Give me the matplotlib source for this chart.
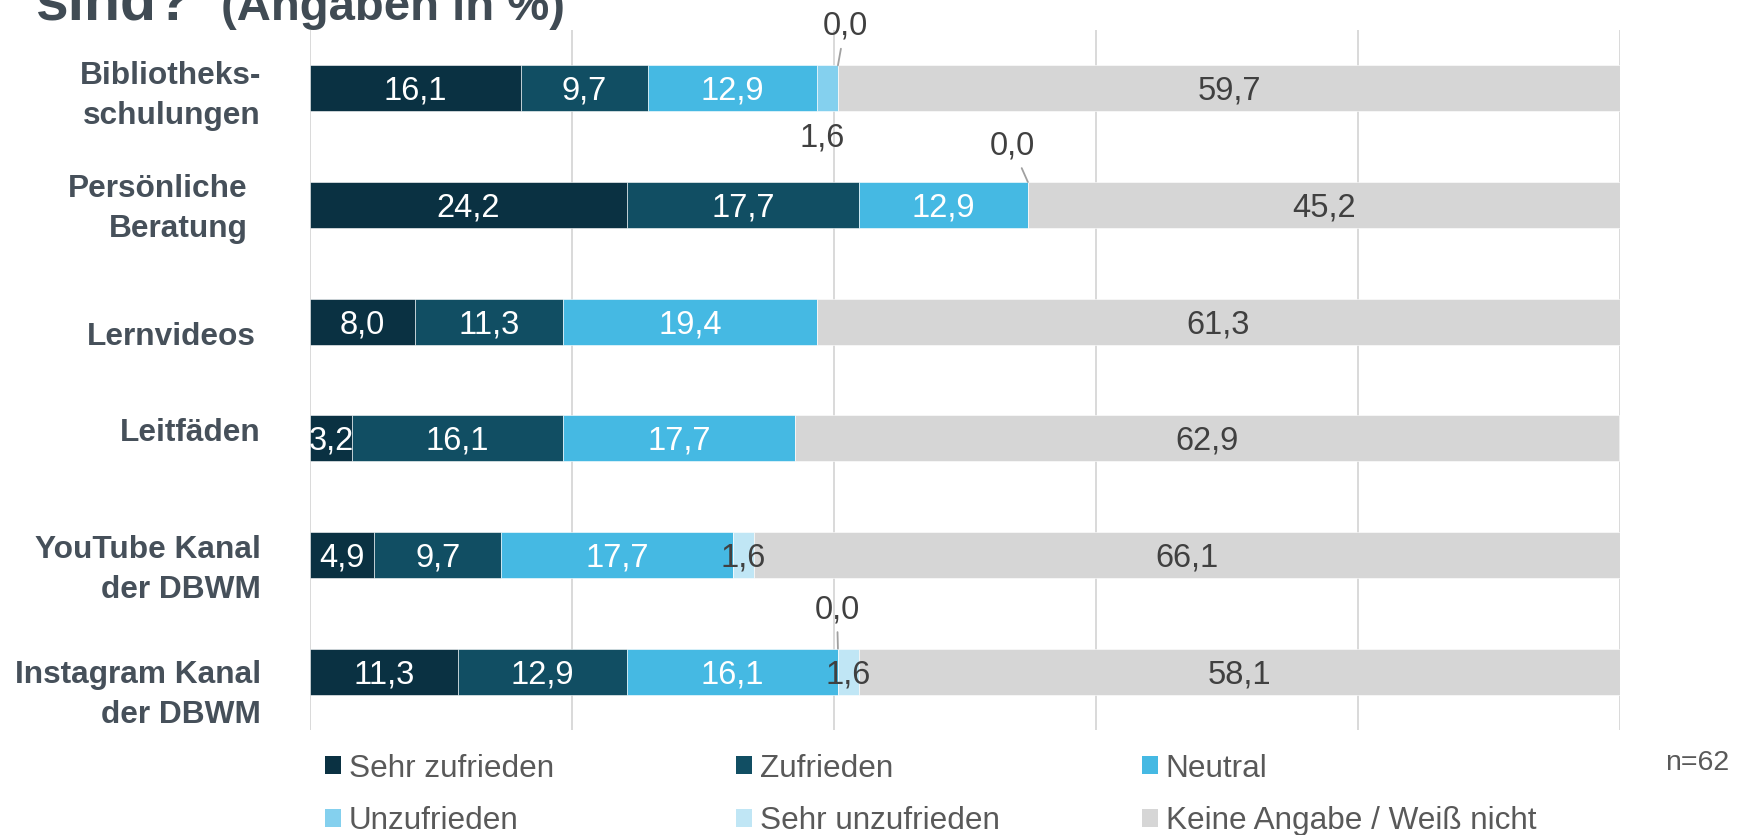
import matplotlib
matplotlib.use("Agg")
import matplotlib.pyplot as plt
from matplotlib.patches import Patch
from matplotlib.transforms import offset_copy, blended_transform_factory

# ---------------- data ----------------
categories = ["Bibliotheks-\nschulungen", "Persönliche\nBeratung", "Lernvideos",
              "Leitfäden", "YouTube Kanal\nder DBWM", "Instagram Kanal\nder DBWM"]
series_names = ["Sehr zufrieden", "Zufrieden", "Neutral", "Unzufrieden",
                "Sehr unzufrieden", "Keine Angabe / Weiß nicht"]
sehr_zufrieden = [16.1, 24.2, 8.0, 3.2, 4.9, 11.3]
zufrieden = [9.7, 17.7, 11.3, 16.1, 9.7, 12.9]
neutral = [12.9, 12.9, 19.4, 17.7, 17.7, 16.1]
unzufrieden = [1.6, 0.0, 0.0, 0.0, 0.0, 0.0]
sehr_unzufrieden = [0.0, 0.0, 0.0, 0.0, 1.6, 1.6]
keine_angabe = [59.7, 45.2, 61.3, 62.9, 66.1, 58.1]
series = [sehr_zufrieden, zufrieden, neutral, unzufrieden, sehr_unzufrieden, keine_angabe]
n_text = "n=62"

# ---------------- style ----------------
colors = ["#0A3142", "#114E63", "#45B9E3", "#84D0EE", "#C0E6F5", "#D6D6D6"]
label_colors = ["white", "white", "white", "#404040", "#404040", "#404040"]
# special labels: (row, series, dx px, dy px (up), leader line)
special = [(0, 3, -5, -27, False), (0, 4, 7, 39, True),
           (1, 4, -16, 36, True), (5, 3, -1, 39, True)]
# category label block offsets (px, right/down) relative to bar centre
cat_dx = [0, -13, -5, 0, 0, 0]
cat_dy = [4, 1, 12, -9, 11.5, 20.5]

W, H = 1741, 835
plt.rcParams["font.family"] = ["Liberation Sans", "DejaVu Sans"]
fig = plt.figure(figsize=(W / 100, H / 100), dpi=100)
ax = fig.add_axes([310 / W, 1 - 730 / H, 1310 / W, 700 / H])

bar_h = 0.394
rows = list(range(len(categories)))
lefts = [0.0] * len(categories)
starts = []
for i, vals in enumerate(series):
    ax.barh(rows, vals, left=lefts, height=bar_h, color=colors[i],
            edgecolor="white", linewidth=0.4, label=series_names[i], zorder=2)
    starts.append(list(lefts))
    lefts = [l + v for l, v in zip(lefts, vals)]

ax.set_xlim(0, 100)
ax.set_ylim(5.5, -0.5)
ax.set_xticks(range(0, 101, 20))
ax.set_yticks([])
ax.tick_params(axis="x", length=0, labelbottom=False)
ax.grid(axis="x", color="#D9D9D9", linewidth=1.4, zorder=0)
ax.set_axisbelow(True)
for s in ax.spines.values():
    s.set_visible(False)

fs_val = 23.5
cap_half = 11.5
special_keys = {(r, s): (dx, dy, ld) for r, s, dx, dy, ld in special}
for i, vals in enumerate(series):
    for j, v in enumerate(vals):
        txt = f"{v:.1f}".replace(".", ",")
        xc = starts[i][j] + v / 2
        if (j, i) in special_keys:
            dx, dy, ld = special_keys[(j, i)]
            edge = j - bar_h / 2 if dy > 0 else j + bar_h / 2
            if ld:
                ax.annotate(txt, xy=(xc, edge), xytext=(dx, dy), textcoords="offset pixels",
                            ha="center", va="center", fontsize=fs_val, color="#404040",
                            arrowprops=dict(arrowstyle="-", color="#A0A0A0", lw=1.3,
                                            shrinkA=3, shrinkB=0), zorder=5)
            else:
                ax.annotate(txt, xy=(xc, edge), xytext=(dx, dy), textcoords="offset pixels",
                            ha="center", va="center", fontsize=fs_val, color="#404040", zorder=5)
        elif v > 0:
            ax.annotate(txt, xy=(xc, j), xytext=(0, -cap_half), textcoords="offset pixels",
                        ha="center", va="baseline", fontsize=fs_val, color=label_colors[i],
                        zorder=5)

# category labels
base_tr = blended_transform_factory(ax.transAxes, ax.transData)
fs_cat = 22.8
for j, cat in enumerate(categories):
    lines = cat.split("\n")
    n = len(lines)
    for k, line in enumerate(lines):
        off = cat_dy[j] + (k - (n - 1) / 2) * 40 + 11.3
        tr = offset_copy(base_tr, fig=fig, x=cat_dx[j], y=-off, units="dots")
        ax.text((261 - 310) / 1310, j, line, transform=tr, ha="right", va="baseline",
                fontsize=fs_cat, fontweight="bold", color="#46505A", clip_on=False)

# title (cut at the top, as in the source)
fig.text(36 / W, 1 - 20 / H, "sind?", fontsize=42.5, fontweight="bold",
         color="#404B54", ha="left", va="baseline")
fig.text(221 / W, 1 - 20 / H, "(Angaben in %)", fontsize=34, fontweight="bold",
         color="#404B54", ha="left", va="baseline")

# legend: three columns, row-wise order
handles = [Patch(facecolor=c, edgecolor="none") for c in colors]
col_x = [325, 736, 1142]
for c in range(3):
    idx = [c, c + 3]
    fig.legend([handles[k] for k in idx], [series_names[k] for k in idx],
               loc="center left", bbox_to_anchor=(col_x[c] / W, 1 - 795 / H),
               frameon=False, fontsize=22.7, handlelength=0.5, handleheight=0.5,
               handletextpad=0.25, labelspacing=0.72, borderpad=0, borderaxespad=0,
               labelcolor="#595959")

fig.text(1729 / W, 1 - 763 / H, n_text, fontsize=20.5, color="#595959",
         ha="right", va="center")

fig.savefig("out.png", dpi=100)
